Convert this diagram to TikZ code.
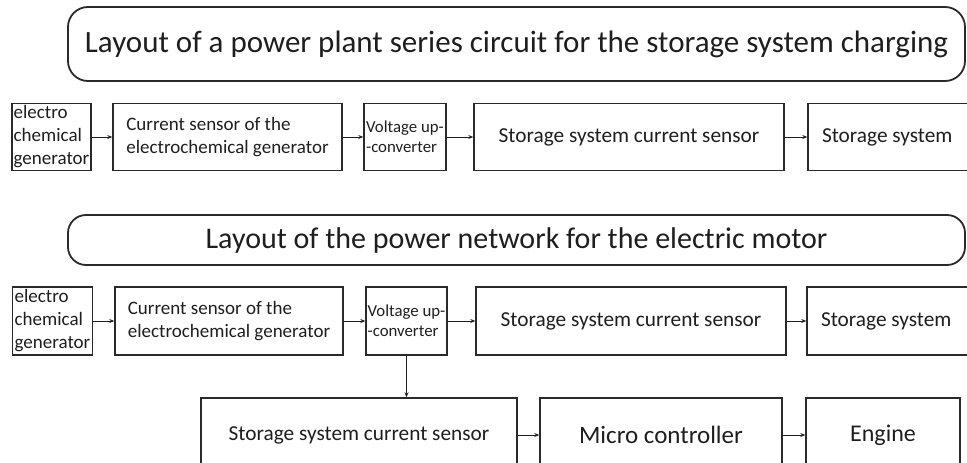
\documentclass[tikz,border=0pt]{standalone}
\usepackage{fontspec}
\setmainfont{Carlito}
\usepackage{tikz}
\usetikzlibrary{arrows.meta, positioning}
\definecolor{Ink}{HTML}{1E1E1E}
\definecolor{Frame}{HTML}{2A2A2A}
\tikzset{
  blk/.style={
    rectangle, draw=Frame, line width=1.4pt,
    minimum width=#1, minimum height=67pt,
    inner xsep=1pt, inner ysep=2pt, align=left, text=Ink,
    font=\fontsize{19}{23}\selectfont
  },
  blk/.default=80pt,
  big/.style={font=\fontsize{21.3}{25}\selectfont},
  small/.style={font=\fontsize{16.8}{20}\selectfont},
  title/.style={
    rectangle, rounded corners=#1, draw=Frame, line width=1.8pt,
    minimum width=897pt, text=Ink,
    font=\fontsize{30.5}{34}\selectfont
  },
  title/.default=20pt,
  arr/.style={-{Stealth[length=5pt, width=4pt]}, line width=0.8pt, color=Ink},
}

\begin{document}
\begin{tikzpicture}[x=1pt, y=-1pt]
\path[use as bounding box, clip] (0,0) rectangle (967,463);

% Charging circuit title
\node[title, minimum height=74pt, font=\fontsize{31}{34}\selectfont] at (516.5,44) (head1) {Layout of a power plant series circuit for the storage system charging};

% Charging circuit chain
\node[blk=79pt] at (51.5,137) (gen1) {electro\\chemical\\generator};
\node[blk=229pt] at (227.5,137) (cs1) {Current sensor of the\\electrochemical generator};
\node[blk=82pt, small] at (405,137) (vc1) {Voltage up-\\-converter};
\node[blk=310pt, big] at (629,137) (ss1) {Storage system current sensor};
\node[blk, big, text width=154pt, align=flush left, inner xsep=14pt, minimum width=182pt] at (899,137) (st1) {Storage system};

% Motor network title
\node[title=18pt, minimum height=50pt, font=\fontsize{30}{34}\selectfont] at (516.5,240) (head2) {Layout of the power network for the electric motor};

% Motor network chain
\node[blk=80pt, minimum height=68pt] at (52.5,321) (gen2) {electro\\chemical\\generator};
\node[blk=228pt, minimum height=68pt] at (229,321) (cs2) {Current sensor of the\\electrochemical generator};
\node[blk=81pt, small, minimum height=68pt] at (406.5,321) (vc2) {Voltage up-\\-converter};
\node[blk=310pt, big, minimum height=68pt] at (631,321) (ss2) {Storage system current sensor};
\node[blk, big, text width=154pt, align=flush left, inner xsep=14pt, minimum width=182pt, minimum height=68pt] at (898,321) (st2) {Storage system};

% Motor branch
\node[blk=316pt, big, minimum height=74pt, align=center] at (359,435) (ss3) {Storage system current sensor};
\node[blk=242pt, minimum height=74pt, font=\fontsize{25}{30}\selectfont] at (661,435) (mc) {Micro controller};
\node[blk=154pt, minimum height=74pt, font=\fontsize{24}{29}\selectfont] at (883,435) (eng) {Engine};

% Connectors
\draw[arr] (gen1) -- (cs1);
\draw[arr] (cs1) -- (vc1);
\draw[arr] (vc1) -- (ss1);
\draw[arr] (ss1) -- (st1);
\draw[arr] (gen2) -- (cs2);
\draw[arr] (cs2) -- (vc2);
\draw[arr] (vc2) -- (ss2);
\draw[arr] (ss2) -- (st2);
\draw[arr] (vc2.south) -- (vc2.south |- ss3.north);
\draw[arr] (ss3) -- (mc);
\draw[arr] (mc) -- (eng);

\end{tikzpicture}
\end{document}
